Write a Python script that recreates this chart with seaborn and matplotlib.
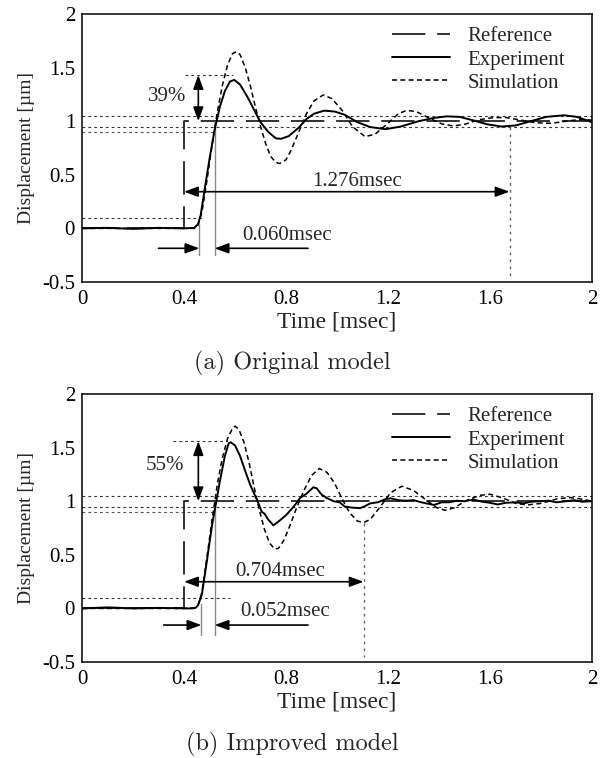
import numpy as np
import pandas as pd
import matplotlib
matplotlib.use("Agg")
import matplotlib.pyplot as plt
from matplotlib.lines import Line2D
import seaborn as sns

# ---------------- data ----------------
# (a) original model
orig_exp_t = [0.00, 0.10, 0.20, 0.30, 0.40, 0.44, 0.455, 0.465, 0.48, 0.50, 0.52, 0.54,
              0.56, 0.58, 0.597, 0.62, 0.65, 0.68, 0.70, 0.73, 0.76, 0.78, 0.81, 0.85,
              0.88, 0.91, 0.95, 0.99, 1.03, 1.08, 1.13, 1.19, 1.25, 1.32, 1.38, 1.43,
              1.48, 1.53, 1.59, 1.645, 1.70, 1.76, 1.82, 1.89, 1.94, 2.00]
orig_exp_d = [0.00, 0.005, -0.005, 0.005, 0.00, 0.005, 0.04, 0.12, 0.35, 0.65, 0.92, 1.13,
              1.28, 1.37, 1.385, 1.34, 1.22, 1.08, 0.99, 0.90, 0.84, 0.835, 0.86, 0.94,
              1.02, 1.07, 1.098, 1.09, 1.06, 0.99, 0.945, 0.925, 0.95, 1.00, 1.03, 1.045,
              1.04, 1.01, 0.97, 0.95, 0.96, 1.00, 1.04, 1.055, 1.04, 0.99]
orig_sim_t = [0.00, 0.44, 0.455, 0.47, 0.49, 0.51, 0.53, 0.55, 0.57, 0.59, 0.605, 0.62,
              0.64, 0.66, 0.68, 0.70, 0.72, 0.74, 0.76, 0.775, 0.80, 0.82, 0.85, 0.88,
              0.91, 0.946, 0.98, 1.02, 1.06, 1.11, 1.15, 1.20, 1.24, 1.273, 1.31, 1.36,
              1.41, 1.455, 1.50, 1.55, 1.60, 1.66, 1.72, 1.78, 1.84, 1.90, 1.95, 2.00]
orig_sim_d = [0.00, 0.00, 0.03, 0.15, 0.45, 0.78, 1.08, 1.33, 1.52, 1.63, 1.648, 1.62,
              1.50, 1.33, 1.13, 0.95, 0.79, 0.67, 0.615, 0.605, 0.64, 0.73, 0.90, 1.07,
              1.19, 1.245, 1.21, 1.10, 0.95, 0.855, 0.88, 0.98, 1.07, 1.10, 1.09, 1.03,
              0.975, 0.955, 0.97, 1.01, 1.03, 1.035, 1.01, 0.985, 0.98, 1.00, 1.015, 1.01]

# (b) improved model
impr_exp_t = [0.00, 0.10, 0.20, 0.30, 0.42, 0.445, 0.455, 0.47, 0.49, 0.51, 0.525, 0.54,
              0.56, 0.575, 0.583, 0.60, 0.62, 0.64, 0.66, 0.69, 0.705, 0.715, 0.73, 0.75,
              0.77, 0.79, 0.80, 0.83, 0.855, 0.88, 0.907, 0.92, 0.94, 0.96, 0.986, 1.01,
              1.03, 1.06, 1.09, 1.11, 1.13, 1.16, 1.19, 1.21, 1.24, 1.27, 1.30, 1.33,
              1.36, 1.38, 1.41, 1.44, 1.47, 1.50, 1.535, 1.57, 1.60, 1.63, 1.66, 1.70,
              1.73, 1.76, 1.80, 1.83, 1.86, 1.90, 1.93, 1.96, 2.00]
impr_exp_d = [0.00, 0.01, 0.00, 0.005, 0.00, 0.005, 0.03, 0.13, 0.45, 0.78, 0.98, 1.18,
              1.42, 1.54, 1.55, 1.52, 1.42, 1.28, 1.15, 0.99, 0.90, 0.885, 0.83, 0.775,
              0.81, 0.85, 0.87, 0.95, 1.03, 1.07, 1.13, 1.12, 1.06, 1.03, 1.00, 0.99,
              0.95, 0.94, 0.935, 0.955, 0.98, 0.99, 1.02, 1.027, 1.01, 1.005, 1.01, 0.99,
              0.975, 0.965, 0.99, 0.99, 1.005, 1.00, 1.015, 0.995, 0.985, 0.97, 0.985, 0.99,
              0.98, 0.995, 1.00, 1.005, 0.99, 1.00, 1.01, 0.995, 1.00]
impr_sim_t = [0.00, 0.44, 0.455, 0.47, 0.49, 0.51, 0.53, 0.55, 0.57, 0.59, 0.60, 0.615,
              0.635, 0.655, 0.675, 0.695, 0.715, 0.735, 0.755, 0.77, 0.79, 0.81, 0.84, 0.87,
              0.90, 0.93, 0.96, 0.99, 1.02, 1.05, 1.08, 1.103, 1.13, 1.17, 1.21, 1.254,
              1.30, 1.35, 1.39, 1.424, 1.46, 1.51, 1.56, 1.60, 1.65, 1.70, 1.745, 1.80,
              1.86, 1.91, 1.96, 2.00]
impr_sim_d = [0.00, 0.00, 0.03, 0.15, 0.48, 0.83, 1.15, 1.40, 1.58, 1.68, 1.70, 1.67,
              1.55, 1.36, 1.13, 0.92, 0.74, 0.61, 0.555, 0.56, 0.63, 0.74, 0.93, 1.10,
              1.24, 1.305, 1.27, 1.17, 1.02, 0.89, 0.815, 0.80, 0.83, 0.95, 1.08, 1.14,
              1.10, 1.01, 0.94, 0.915, 0.94, 1.01, 1.055, 1.065, 1.03, 0.98, 0.965, 0.98,
              1.02, 1.035, 1.02, 1.00]

# reference step input
ref_t = [0.0, 0.4, 0.4, 2.0]
ref_d = [0.0, 0.0, 1.0, 1.0]

# annotation values per panel
overshoot_pct = ["39%", "55%"]
overshoot_peak = [1.43, 1.56]
rise_start = [0.46, 0.468]
rise_time = [0.060, 0.052]
settling_time = [1.276, 0.704]
settle_line_top = [0.95, 0.80]
captions = ["(a) Original model", "(b) Improved model"]

xticks = [0, 0.4, 0.8, 1.2, 1.6, 2]
xtick_labels = ["0", "0.4", "0.8", "1.2", "1.6", "2"]
yticks = [-0.5, 0, 0.5, 1, 1.5, 2]
ytick_labels = ["-0.5", "0", "0.5", "1", "1.5", "2"]

# ---------------- style ----------------
sns.set_theme(style="white")
plt.rcParams["font.family"] = ["Liberation Serif", "DejaVu Serif"]
plt.rcParams["lines.scale_dashes"] = False
plt.rcParams["axes.unicode_minus"] = False

SERIF = ["Liberation Serif", "DejaVu Serif"]
FS = 15
REF_DASH = (24, 8.5)
SIM_DASH = (3.6, 2.4)
DOT = (2.0, 2.2)

fig = plt.figure(figsize=(6.03, 7.58), dpi=100)
ax_top = fig.add_axes([0.136, 0.628, 0.846, 0.3536])
ax_bot = fig.add_axes([0.136, 0.1266, 0.846, 0.3536])

panels = [
    (ax_top, orig_exp_t, orig_exp_d, orig_sim_t, orig_sim_d),
    (ax_bot, impr_exp_t, impr_exp_d, impr_sim_t, impr_sim_d),
]

arrow_y_settle = [0.342, 0.249]
text_y_settle = [0.44, 0.342]
text_x_settle = [1.08, 0.776]
arrow_y_rise = [-0.186, -0.155]
text_y_rise = [-0.07, -0.03]
text_x_rise = [0.63, 0.62]
rise_left_tail = [0.30, 0.32]
pct_text_xy = [(0.332, 1.229), (0.325, 1.33)]
peak_line_x = [(0.404, 0.593), (0.357, 0.57)]
low_line_x = [0.48, 0.58]
caption_y = [0.520, 0.018]


def arrow(ax, tail, tip, style="-|>"):
    ax.annotate("", xy=tip, xytext=tail,
                arrowprops=dict(arrowstyle=f"{style},head_length=0.6,head_width=0.22",
                                color="black", lw=1.2, mutation_scale=14,
                                shrinkA=0, shrinkB=0))


for i, (ax, et, ed, st, sd) in enumerate(panels):
    # tolerance band and rise-time levels
    for lvl in (1.05, 0.95):
        ax.axhline(lvl, color="#333333", lw=0.8, dashes=DOT, zorder=1)
    ax.plot([0, 0.52], [0.9, 0.9], color="#555555", lw=0.8, dashes=DOT, zorder=1)
    ax.plot([0, low_line_x[i]], [0.1, 0.1], color="#333333", lw=0.8, dashes=DOT, zorder=1)
    ax.plot(list(peak_line_x[i]), [overshoot_peak[i]] * 2, color="#333333", lw=0.8,
            dashes=DOT, zorder=1)

    # curves
    sns.lineplot(x=ref_t, y=ref_d, ax=ax, color="#222222", lw=1.3, estimator=None,
                 sort=False, zorder=2)
    ax.lines[-1].set_dashes(REF_DASH)
    sns.lineplot(x=st, y=sd, ax=ax, color="black", lw=1.1, estimator=None, sort=False,
                 zorder=3)
    ax.lines[-1].set_dashes(SIM_DASH)
    sns.lineplot(x=et, y=ed, ax=ax, color="black", lw=1.4, estimator=None, sort=False,
                 zorder=4)

    # rise-time markers
    t0 = rise_start[i]
    t1 = t0 + rise_time[i]
    ax.plot([t0, t0], [0.04, -0.25], color="#888888", lw=1.0, zorder=2)
    ax.plot([t1, t1], [1.0, -0.25], color="#888888", lw=1.0, zorder=2)
    arrow(ax, (rise_left_tail[i], arrow_y_rise[i]), (t0, arrow_y_rise[i]))
    arrow(ax, (0.886, arrow_y_rise[i]), (t1, arrow_y_rise[i]))
    ax.text(text_x_rise[i], text_y_rise[i], f"{rise_time[i]:.3f}msec", fontsize=FS,
            family=SERIF, ha="left", va="center")

    # settling time
    ts = 0.4 + settling_time[i]
    ax.plot([ts, ts], [settle_line_top[i], -0.45], color="#666666",
            lw=1.0, dashes=(2.0, 3.0), zorder=1)
    arrow(ax, (0.4, arrow_y_settle[i]), (ts, arrow_y_settle[i]), style="<|-|>")
    ax.text(text_x_settle[i], text_y_settle[i], f"{settling_time[i]:.3f}msec",
            fontsize=FS, family=SERIF, ha="center", va="center")

    # overshoot
    arrow(ax, (0.456, 1.0), (0.456, overshoot_peak[i]), style="<|-|>")
    ax.text(*pct_text_xy[i], overshoot_pct[i], fontsize=FS, family=SERIF,
            ha="center", va="center")

    # axes
    ax.set_xlim(0, 2)
    ax.set_ylim(-0.5, 2)
    ax.set_xticks(xticks)
    ax.set_xticklabels(xtick_labels)
    ax.set_yticks(yticks)
    ax.set_yticklabels(ytick_labels)
    ax.tick_params(axis="both", direction="in", length=11, width=1.2, labelsize=FS,
                   pad=5, colors="black")
    ax.tick_params(axis="x", pad=6)
    for sp in ax.spines.values():
        sp.set_visible(True)
        sp.set_color("black")
        sp.set_linewidth(1.1)
    ax.set_xlabel("Time [msec]", fontsize=17, family=SERIF, labelpad=1.5)
    ax.set_ylabel("Displacement [µm]", fontsize=14, family=SERIF)
    ax.yaxis.set_label_coords(-0.093, 0.5)
    ax.grid(False)

    handles = [
        Line2D([], [], color="#222222", lw=1.3, dashes=REF_DASH),
        Line2D([], [], color="black", lw=1.4),
        Line2D([], [], color="black", lw=1.1, dashes=SIM_DASH),
    ]
    ax.legend(handles, ["Reference", "Experiment", "Simulation"], loc="upper left",
              bbox_to_anchor=(0.608, 0.952), frameon=False, fontsize=FS,
              handlelength=2.79, handletextpad=0.82, labelspacing=0.17,
              borderpad=0, borderaxespad=0)

    fig.text(0.485, caption_y[i], captions[i], fontsize=17.5,
             family=["cmr10", "DejaVu Serif"], ha="center", va="center")

fig.savefig("out.png", dpi=100)
